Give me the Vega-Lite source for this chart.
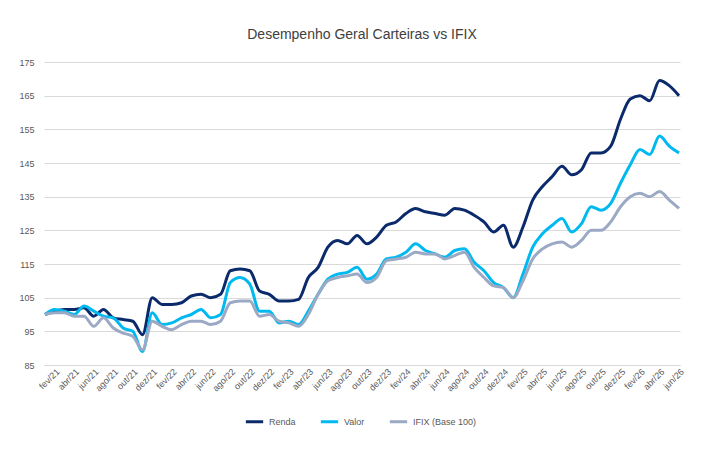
{
  "$schema": "https://vega.github.io/schema/vega-lite/v6.json",
  "width": 636,
  "height": 303,
  "autosize": {"type": "pad"},
  "padding": {"left": 18, "right": 25, "top": 28, "bottom": 10},
  "title": {"text": "Desempenho Geral Carteiras vs IFIX", "font": "Liberation Sans", "fontSize": 14, "fontWeight": "normal", "color": "#404040", "offset": 16},
  "data": {"values": [
    {"m":"jan/21","Renda":100,"Valor":100,"IFIX (Base 100)":100},
    {"m":"fev/21","Renda":101,"Valor":101.5,"IFIX (Base 100)":100.5},
    {"m":"mar/21","Renda":101.5,"Valor":101,"IFIX (Base 100)":100.5},
    {"m":"abr/21","Renda":101.5,"Valor":100,"IFIX (Base 100)":99.5},
    {"m":"mai/21","Renda":102,"Valor":102.5,"IFIX (Base 100)":99.5},
    {"m":"jun/21","Renda":99.5,"Valor":101,"IFIX (Base 100)":96.5},
    {"m":"jul/21","Renda":101.5,"Valor":99.5,"IFIX (Base 100)":99},
    {"m":"ago/21","Renda":99,"Valor":99,"IFIX (Base 100)":96},
    {"m":"set/21","Renda":98.5,"Valor":96,"IFIX (Base 100)":94.5},
    {"m":"out/21","Renda":98,"Valor":95,"IFIX (Base 100)":93.5},
    {"m":"nov/21","Renda":94,"Valor":89,"IFIX (Base 100)":89.5},
    {"m":"dez/21","Renda":105,"Valor":100.5,"IFIX (Base 100)":98},
    {"m":"jan/22","Renda":103,"Valor":97,"IFIX (Base 100)":96.5},
    {"m":"fev/22","Renda":103,"Valor":97.5,"IFIX (Base 100)":95.5},
    {"m":"mar/22","Renda":103.5,"Valor":99,"IFIX (Base 100)":97},
    {"m":"abr/22","Renda":105.5,"Valor":100,"IFIX (Base 100)":98},
    {"m":"mai/22","Renda":106,"Valor":101.5,"IFIX (Base 100)":98},
    {"m":"jun/22","Renda":105,"Valor":99,"IFIX (Base 100)":97},
    {"m":"jul/22","Renda":106,"Valor":100,"IFIX (Base 100)":98},
    {"m":"ago/22","Renda":113,"Valor":109.5,"IFIX (Base 100)":103.5},
    {"m":"set/22","Renda":113.5,"Valor":111,"IFIX (Base 100)":104},
    {"m":"out/22","Renda":113,"Valor":109,"IFIX (Base 100)":104},
    {"m":"nov/22","Renda":107,"Valor":101,"IFIX (Base 100)":99.5},
    {"m":"dez/22","Renda":106,"Valor":101,"IFIX (Base 100)":100},
    {"m":"jan/23","Renda":104,"Valor":97.5,"IFIX (Base 100)":98},
    {"m":"fev/23","Renda":104,"Valor":98,"IFIX (Base 100)":97.5},
    {"m":"mar/23","Renda":104.5,"Valor":97,"IFIX (Base 100)":96.5},
    {"m":"abr/23","Renda":111,"Valor":101,"IFIX (Base 100)":100},
    {"m":"mai/23","Renda":114,"Valor":106,"IFIX (Base 100)":106},
    {"m":"jun/23","Renda":120,"Valor":110.5,"IFIX (Base 100)":110},
    {"m":"jul/23","Renda":122,"Valor":112,"IFIX (Base 100)":111},
    {"m":"ago/23","Renda":121,"Valor":112.5,"IFIX (Base 100)":111.5},
    {"m":"set/23","Renda":123.5,"Valor":114,"IFIX (Base 100)":112},
    {"m":"out/23","Renda":121,"Valor":110.5,"IFIX (Base 100)":109.5},
    {"m":"nov/23","Renda":123,"Valor":112,"IFIX (Base 100)":111},
    {"m":"dez/23","Renda":126.5,"Valor":116.5,"IFIX (Base 100)":116},
    {"m":"jan/24","Renda":127.5,"Valor":117,"IFIX (Base 100)":116.5},
    {"m":"fev/24","Renda":130,"Valor":118.5,"IFIX (Base 100)":117},
    {"m":"mar/24","Renda":131.5,"Valor":121,"IFIX (Base 100)":118.5},
    {"m":"abr/24","Renda":130.5,"Valor":119,"IFIX (Base 100)":118},
    {"m":"mai/24","Renda":130,"Valor":118,"IFIX (Base 100)":118},
    {"m":"jun/24","Renda":129.5,"Valor":117,"IFIX (Base 100)":116.5},
    {"m":"jul/24","Renda":131.5,"Valor":119,"IFIX (Base 100)":117.5},
    {"m":"ago/24","Renda":131,"Valor":119.5,"IFIX (Base 100)":118.5},
    {"m":"set/24","Renda":129.5,"Valor":115.5,"IFIX (Base 100)":114},
    {"m":"out/24","Renda":127.5,"Valor":113,"IFIX (Base 100)":111},
    {"m":"nov/24","Renda":124.5,"Valor":109.5,"IFIX (Base 100)":108.5},
    {"m":"dez/24","Renda":126.5,"Valor":108,"IFIX (Base 100)":108},
    {"m":"jan/25","Renda":120,"Valor":105,"IFIX (Base 100)":105},
    {"m":"fev/25","Renda":126,"Valor":112,"IFIX (Base 100)":110},
    {"m":"mar/25","Renda":134,"Valor":120,"IFIX (Base 100)":116.5},
    {"m":"abr/25","Renda":138,"Valor":124,"IFIX (Base 100)":119.5},
    {"m":"mai/25","Renda":141,"Valor":126.5,"IFIX (Base 100)":121},
    {"m":"jun/25","Renda":144,"Valor":128.5,"IFIX (Base 100)":121.5},
    {"m":"jul/25","Renda":141.5,"Valor":124.5,"IFIX (Base 100)":120},
    {"m":"ago/25","Renda":143,"Valor":127,"IFIX (Base 100)":122},
    {"m":"set/25","Renda":148,"Valor":132,"IFIX (Base 100)":125},
    {"m":"out/25","Renda":148,"Valor":131,"IFIX (Base 100)":125},
    {"m":"nov/25","Renda":150,"Valor":133,"IFIX (Base 100)":127.5},
    {"m":"dez/25","Renda":158,"Valor":139,"IFIX (Base 100)":132},
    {"m":"jan/26","Renda":164,"Valor":144.5,"IFIX (Base 100)":135},
    {"m":"fev/26","Renda":165,"Valor":149,"IFIX (Base 100)":136},
    {"m":"mar/26","Renda":163.5,"Valor":147.5,"IFIX (Base 100)":135},
    {"m":"abr/26","Renda":169.5,"Valor":153,"IFIX (Base 100)":136.5},
    {"m":"mai/26","Renda":168,"Valor":150,"IFIX (Base 100)":134},
    {"m":"jun/26","Renda":165,"Valor":148,"IFIX (Base 100)":131.5}
  ]},
  "transform": [{"fold": ["Renda", "Valor", "IFIX (Base 100)"], "as": ["serie", "v"]}],
  "mark": {"type": "line", "interpolate": "monotone", "strokeWidth": 3},
  "encoding": {
    "x": {
      "field": "m", "type": "ordinal", "sort": null, "title": null,
      "scale": {"type": "point", "padding": 0.1},
      "axis": {
        "values": ["fev/21","abr/21","jun/21","ago/21","out/21","dez/21","fev/22","abr/22","jun/22","ago/22","out/22","dez/22","fev/23","abr/23","jun/23","ago/23","out/23","dez/23","fev/24","abr/24","jun/24","ago/24","out/24","dez/24","fev/25","abr/25","jun/25","ago/25","out/25","dez/25","fev/26","abr/26","jun/26"],
        "labelAngle": -45, "ticks": false, "domainColor": "#d9d9d9", "labelColor": "#595959", "labelFontSize": 9, "labelFont": "Liberation Sans"
      }
    },
    "y": {
      "field": "v", "type": "quantitative", "title": null,
      "scale": {"domain": [85, 175], "nice": false, "zero": false},
      "axis": {"values": [85,95,105,115,125,135,145,155,165,175], "domain": false, "ticks": false, "gridColor": "#d9d9d9", "labelColor": "#595959", "labelFontSize": 9, "labelFont": "Liberation Sans", "labelPadding": 10}
    },
    "color": {
      "field": "serie", "type": "nominal", "title": null,
      "sort": ["Renda", "Valor", "IFIX (Base 100)"],
      "scale": {"domain": ["Renda", "Valor", "IFIX (Base 100)"], "range": ["#0b2a6b", "#00b9f0", "#9ba9c4"]},
      "legend": {"orient": "none", "legendX": 200, "legendY": 349, "direction": "horizontal", "symbolType": "stroke", "symbolStrokeWidth": 3, "symbolSize": 300, "labelFontSize": 9, "labelColor": "#595959", "labelFont": "Liberation Sans", "columnPadding": 18}
    }
  },
  "config": {"view": {"stroke": null}}
}
